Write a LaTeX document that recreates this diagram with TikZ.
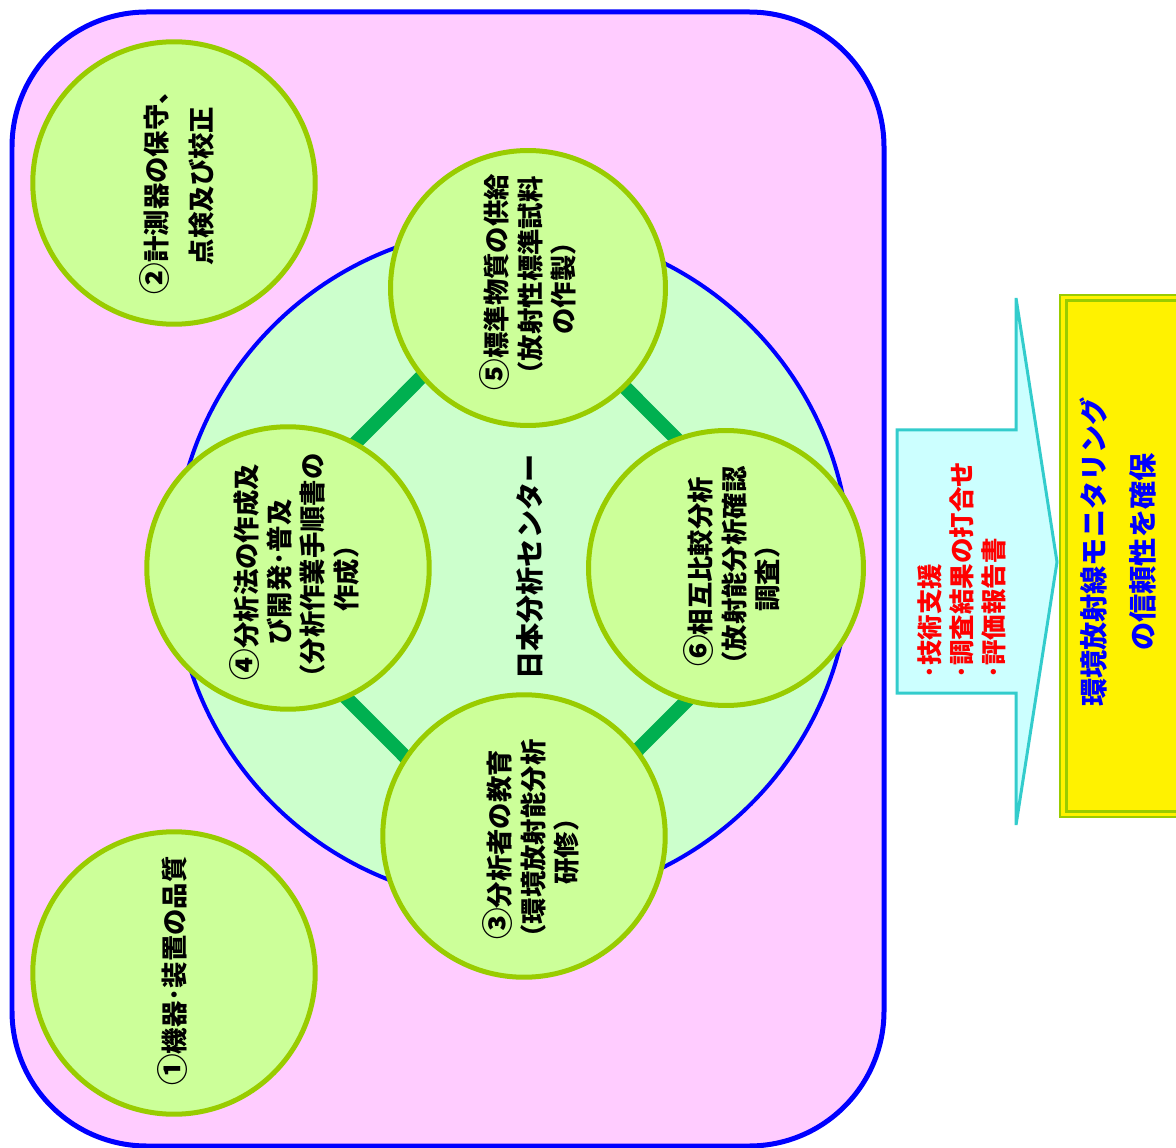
\documentclass[tikz,border=0pt]{standalone}
\usepackage{fontspec}
\setmainfont{Noto Sans CJK JP}
\usetikzlibrary{positioning}

\definecolor{pinkbg}{HTML}{FFCCFF}
\definecolor{hubfill}{HTML}{CCFFCC}
\definecolor{ballfill}{HTML}{CCFF99}
\definecolor{ballline}{HTML}{99CC00}
\definecolor{barcol}{HTML}{00B050}
\definecolor{arrowfill}{HTML}{CCFFFF}
\definecolor{arrowline}{HTML}{33CCCC}

% circled numbers a bit larger than the text around them
\newcommand{\cnum}[1]{{\fontsize{18pt}{19pt}\selectfont #1}}

\tikzstyle{frame}    = [draw=blue, fill=pinkbg, line width=0.1cm, rounded corners=2.7cm]
\tikzstyle{hub}      = [circle, draw=blue, fill=hubfill, line width=0.08cm, minimum size=13.52cm, inner sep=0pt]
\tikzstyle{ball}     = [circle, draw=ballline, fill=ballfill, line width=0.1cm, minimum size=5.65cm, inner sep=0pt]
\tikzstyle{balltext} = [rotate=90, align=center, inner sep=0pt, font=\bfseries\fontsize{15pt}{19pt}\selectfont]
\tikzstyle{bar}      = [draw=barcol, line width=0.28cm]
\tikzstyle{redtext}  = [rotate=90, align=left, inner sep=0pt, text=red, font=\bfseries\fontsize{14.5pt}{18.2pt}\selectfont]
\tikzstyle{bluetext} = [rotate=90, align=center, inner sep=0pt, text=blue, font=\bfseries\fontsize{16pt}{28pt}\selectfont]

\begin{document}
\begin{tikzpicture}[x=0.02cm, y=-0.02cm]
        \useasboundingbox (0,0) rectangle (1176,1148);

        % outer frame and the centre
        \path [frame] (12,12) rectangle (884,1146);
        \node [hub] (hub) at (512,565) {};

        % ring joining the four circles round the centre
        \coordinate (dn) at (518,280);
        \coordinate (de) at (812,575);
        \coordinate (ds) at (518,870);
        \coordinate (dw) at (224,575);
        \path [bar] (dn) -- (de) -- (ds) -- (dw) -- cycle;

        \node [ball] (c2) at (174,183) {};
        \node [ball] (c1) at (174,973) {};
        \node [ball, minimum size=5.5cm] (c5) at (528,288) {};
        \node [ball] (c4) at (288,568) {};
        \node [ball, minimum size=5.5cm] (c6) at (726,568) {};
        \node [ball] (c3) at (524,836) {};

        \node [balltext, font=\bfseries\fontsize{15pt}{25.6pt}\selectfont] (t2) at (177,186) {\cnum{②}計測器の保守、\\点検及び校正};
        \node [balltext] (t1) at (172,971) {\cnum{①}機器･装置の品質};
        \node [balltext] (t5) at (528,282) {\cnum{⑤}標準物質の供給\\（放射性標準試料\\の作製）};
        \node [balltext] (t4) at (294,572) {\cnum{④}分析法の作成及\\び開発･普及\\（分析作業手順書の\\作成）};
        \node [balltext] (t6) at (732,572) {\cnum{⑥}相互比較分析\\（放射能分析確認\\調査）};
        \node [balltext] (t3) at (531,845) {\cnum{③}分析者の教育\\（環境放射能分析\\研修）};
        \node [rotate=90, inner sep=0pt, font=\bfseries\fontsize{16pt}{19pt}\selectfont] (hubname) at (530,567) {日本分析センター};

        % output arrow
        \path [draw=arrowline, fill=arrowfill, line width=0.06cm, line join=miter]
              (897,430) -- (1016,430) -- (1016,298) -- (1057,562)
              -- (1016,825) -- (1016,693) -- (897,693) -- cycle;
        \node [redtext] (support) at (962,570) {･技術支援\\･調査結果の打合せ\\･評価報告書};

        % result box
        \path [draw=ballline, fill=yellow, line width=0.03cm] (1060,295) rectangle (1200,817);
        \path [draw=ballline, line width=0.06cm] (1066,301) rectangle (1200,811);
        \node [bluetext] (goal) at (1118,552) {環境放射線モニタリング\\の信頼性を確保};
\end{tikzpicture}
\end{document}
